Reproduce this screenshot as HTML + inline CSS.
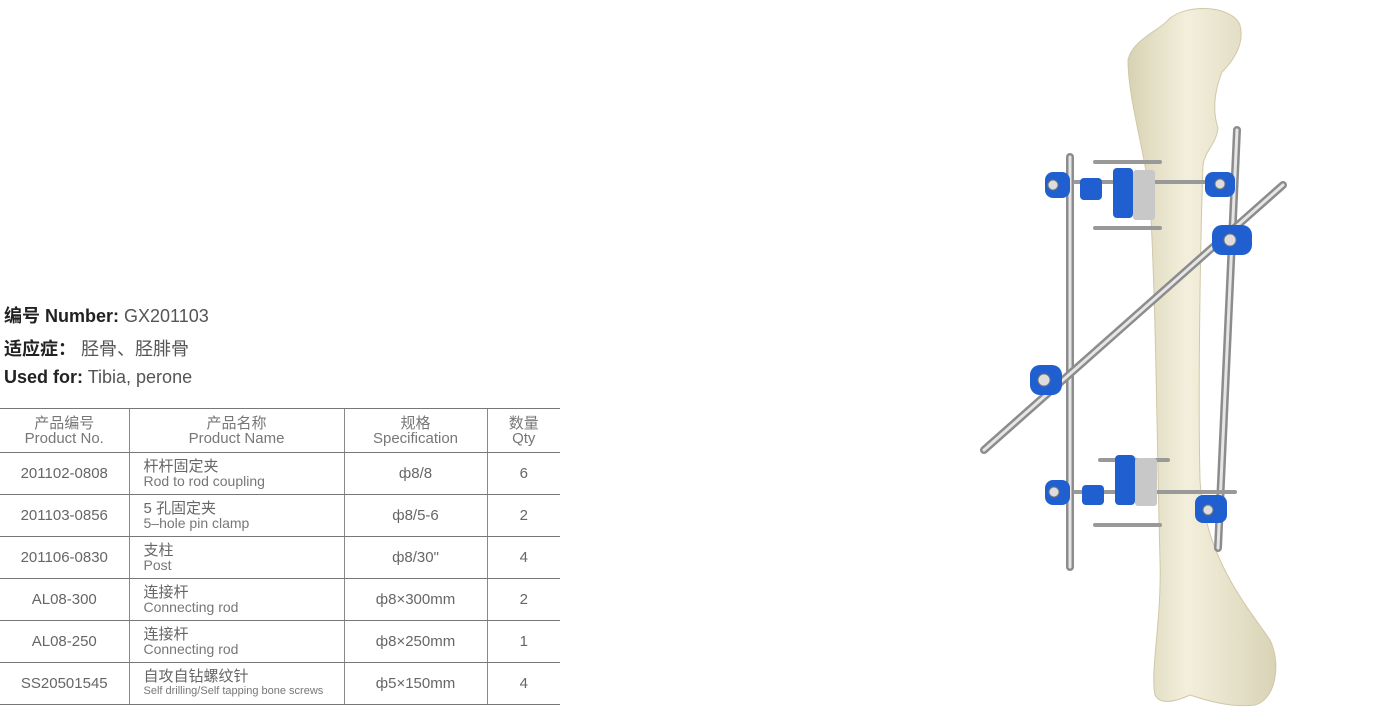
<!DOCTYPE html>
<html><head><meta charset="utf-8"><style>
body{margin:0;width:1400px;height:719px;background:#fff;position:relative;overflow:hidden;font-family:"Liberation Sans","Noto Sans CJK SC",sans-serif;}
.h{position:absolute;left:4px;font-size:18px;color:#555;}
.h b{color:#222;}
table{position:absolute;left:0;top:408px;border-collapse:collapse;width:560px;color:#666;table-layout:fixed;}
td{border-top:1.5px solid #777;border-bottom:1.5px solid #777;padding:0;text-align:center;height:41px;font-size:15px;}
td+td{border-left:1.5px solid #888;}
.nm{text-align:left;padding-left:14px;line-height:15px;}
.nm span{display:block;font-size:15px;}
.nm small{display:block;font-size:14px;color:#777;}
th{font-weight:normal;font-size:15px;line-height:15px;color:#777;height:41px;border-top:1.5px solid #777;border-bottom:1.5px solid #777;}
th+th{border-left:1.5px solid #888;}
</style></head><body>
<div class="h" style="top:302px"><b>编号 Number:</b> GX201103</div>
<div class="h" style="top:335px"><b>适应症：</b> 胫骨、胫腓骨</div>
<div class="h" style="top:367px"><b>Used for:</b> Tibia, perone</div>
<table>
<colgroup><col style="width:129px"><col style="width:215px"><col style="width:143px"><col style="width:73px"></colgroup>
<tr><th>产品编号<br>Product No.</th><th>产品名称<br>Product Name</th><th>规格<br>Specification</th><th>数量<br>Qty</th></tr>
<tr><td>201102-0808</td><td class="nm"><span>杆杆固定夹</span><small>Rod to rod coupling</small></td><td>ф8/8</td><td>6</td></tr>
<tr><td>201103-0856</td><td class="nm"><span>5 孔固定夹</span><small>5–hole pin clamp</small></td><td>ф8/5-6</td><td>2</td></tr>
<tr><td>201106-0830</td><td class="nm"><span>支柱</span><small>Post</small></td><td>ф8/30"</td><td>4</td></tr>
<tr><td>AL08-300</td><td class="nm"><span>连接杆</span><small>Connecting rod</small></td><td>ф8×300mm</td><td>2</td></tr>
<tr><td>AL08-250</td><td class="nm"><span>连接杆</span><small>Connecting rod</small></td><td>ф8×250mm</td><td>1</td></tr>
<tr><td>SS20501545</td><td class="nm"><span>自攻自钻螺纹针</span><small style="font-size:11px">Self drilling/Self tapping bone screws</small></td><td>ф5×150mm</td><td>4</td></tr>
</table>
<svg style="position:absolute;left:0;top:0" width="1400" height="719">
<defs>
<linearGradient id="bn" x1="0" x2="1"><stop offset="0" stop-color="#d8d2b4"/><stop offset=".4" stop-color="#f3efdc"/><stop offset="1" stop-color="#d9d3b6"/></linearGradient>
</defs>
<path d="M1128 60 C1132 40 1160 30 1168 20 C1185 3 1232 5 1240 25 C1245 45 1232 62 1222 72 C1215 90 1212 110 1218 128 C1216 145 1205 150 1203 165 C1200 250 1198 400 1200 480 C1205 560 1250 610 1270 640 C1282 665 1275 700 1255 705 C1230 708 1205 700 1190 695 C1175 702 1160 705 1155 695 C1150 670 1162 620 1160 560 C1157 450 1156 300 1150 200 C1145 150 1128 100 1128 60 Z" fill="url(#bn)" stroke="#cfc8a8" stroke-width="1"/>
<g stroke-linecap="round">
<line x1="1070" y1="157" x2="1070" y2="567" stroke="#8c8c8c" stroke-width="8"/>
<line x1="1070" y1="157" x2="1070" y2="567" stroke="#e6e6e6" stroke-width="3"/>
<line x1="1237" y1="130" x2="1218" y2="548" stroke="#8c8c8c" stroke-width="8"/>
<line x1="1237" y1="130" x2="1218" y2="548" stroke="#e6e6e6" stroke-width="3"/>
<line x1="1283" y1="185" x2="984" y2="450" stroke="#8c8c8c" stroke-width="8"/>
<line x1="1283" y1="185" x2="984" y2="450" stroke="#e6e6e6" stroke-width="3"/>
<g stroke="#999" stroke-width="4">
<line x1="1075" y1="182" x2="1230" y2="182"/><line x1="1095" y1="162" x2="1160" y2="162"/><line x1="1095" y1="228" x2="1160" y2="228"/>
<line x1="1075" y1="492" x2="1235" y2="492"/><line x1="1100" y1="460" x2="1168" y2="460"/><line x1="1095" y1="525" x2="1160" y2="525"/>
</g>
</g>
<g fill="#1f5fd0">
<rect x="1045" y="172" width="25" height="26" rx="8"/><rect x="1080" y="178" width="22" height="22" rx="4"/>
<rect x="1113" y="168" width="20" height="50" rx="4"/><rect x="1205" y="172" width="30" height="25" rx="8"/>
<rect x="1212" y="225" width="40" height="30" rx="10"/><rect x="1030" y="365" width="32" height="30" rx="10"/>
<rect x="1045" y="480" width="25" height="25" rx="8"/><rect x="1082" y="485" width="22" height="20" rx="4"/>
<rect x="1115" y="455" width="20" height="50" rx="4"/><rect x="1195" y="495" width="32" height="28" rx="8"/>
</g>
<g fill="#c8c8c8"><rect x="1133" y="170" width="22" height="50" rx="3"/><rect x="1135" y="458" width="22" height="48" rx="3"/></g>
<g fill="#ddd" stroke="#777"><circle cx="1053" cy="185" r="5"/><circle cx="1220" cy="184" r="5"/><circle cx="1230" cy="240" r="6"/><circle cx="1044" cy="380" r="6"/><circle cx="1054" cy="492" r="5"/><circle cx="1208" cy="510" r="5"/></g>
</svg>
</body></html>
